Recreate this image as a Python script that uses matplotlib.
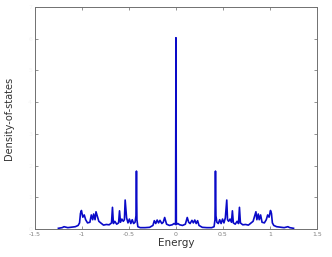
import numpy as np
import matplotlib.pyplot as plt

# density of states (energy, dos)
energy = [-1.25, -1.21, -1.19, -1.15, -1.1, -1.07, -1.04, -1.025, -1.015, -1.005,
          -0.99, -0.975, -0.96, -0.94, -0.915, -0.9, -0.885, -0.875, -0.86, -0.85,
          -0.835, -0.82, -0.8, -0.77, -0.74, -0.71, -0.685, -0.675, -0.665, -0.65,
          -0.63, -0.61, -0.6, -0.59, -0.575, -0.56, -0.548, -0.54, -0.525, -0.51,
          -0.495, -0.48, -0.465, -0.45, -0.435, -0.425, -0.42, -0.415, -0.405, -0.38,
          -0.33, -0.28, -0.245, -0.23, -0.215, -0.2, -0.185, -0.17, -0.15, -0.135,
          -0.12, -0.10, -0.07, -0.04, -0.02, -0.004,
          0.0,
          0.004, 0.02, 0.04, 0.07, 0.10, 0.12, 0.135, 0.15, 0.17, 0.185,
          0.2, 0.215, 0.23, 0.245, 0.28, 0.33, 0.38, 0.405, 0.415, 0.42,
          0.425, 0.435, 0.45, 0.465, 0.48, 0.495, 0.51, 0.525, 0.54, 0.548,
          0.56, 0.575, 0.59, 0.6, 0.61, 0.63, 0.65, 0.665, 0.675, 0.685,
          0.71, 0.74, 0.77, 0.8, 0.82, 0.835, 0.85, 0.86, 0.875, 0.885,
          0.9, 0.915, 0.94, 0.96, 0.975, 0.99, 1.005, 1.015, 1.025, 1.04,
          1.07, 1.1, 1.15, 1.19, 1.21, 1.25]
dos = [0.03, 0.05, 0.08, 0.05, 0.07, 0.08, 0.12, 0.2, 0.5, 0.59,
       0.38, 0.45, 0.3, 0.2, 0.22, 0.45, 0.3, 0.48, 0.3, 0.55,
       0.4, 0.25, 0.2, 0.13, 0.15, 0.14, 0.2, 0.69, 0.18, 0.25,
       0.16, 0.2, 0.58, 0.22, 0.32, 0.25, 0.3, 0.92, 0.36, 0.2,
       0.32, 0.18, 0.3, 0.18, 0.22, 0.42, 1.83, 0.3, 0.08, 0.05,
       0.05, 0.06, 0.12, 0.27, 0.18, 0.29, 0.2, 0.28, 0.18, 0.22,
       0.37, 0.16, 0.12, 0.14, 0.18, 0.15,
       6.03,
       0.15, 0.18, 0.14, 0.12, 0.16, 0.37, 0.22, 0.18, 0.28, 0.2,
       0.29, 0.18, 0.27, 0.12, 0.06, 0.05, 0.05, 0.08, 0.3, 1.83,
       0.42, 0.22, 0.18, 0.3, 0.18, 0.32, 0.2, 0.36, 0.92, 0.3,
       0.25, 0.32, 0.22, 0.58, 0.2, 0.16, 0.25, 0.18, 0.69, 0.2,
       0.14, 0.15, 0.13, 0.2, 0.25, 0.4, 0.55, 0.3, 0.48, 0.3,
       0.45, 0.22, 0.2, 0.3, 0.45, 0.38, 0.59, 0.5, 0.2, 0.12,
       0.08, 0.07, 0.05, 0.08, 0.05, 0.03]
xticks = [-1.5, -1, -0.5, 0, 0.5, 1, 1.5]
xticklabels = ['-1.5', '-1', '-0.5', '0', '0.5', '1', '1.5']
yticks = [0, 1, 2, 3, 4, 5, 6, 7]

fig = plt.figure(figsize=(3.32, 2.57), dpi=100)
ax = fig.add_axes([0.105, 0.108, 0.85, 0.865])
ax.plot(energy, dos, color='#0a0ac8', lw=1.2)

ax.set_xlim(-1.5, 1.5)
ax.set_ylim(0, 7)
ax.set_xticks(xticks)
ax.set_xticklabels(xticklabels)
ax.set_yticks(yticks)
ax.set_yticklabels([str(t) for t in yticks])
ax.tick_params(direction='in', length=2.5, width=0.6, colors='#808080',
               labelsize=4.5, top=True, right=True, pad=2)
ax.tick_params(axis='y', labelcolor='#f4f4f4')
for s in ax.spines.values():
    s.set_color('#707070')
    s.set_linewidth(0.7)

ax.set_xlabel('Energy', fontsize=7.5, color='#333333', labelpad=1)
ax.set_ylabel('Density-of-states', fontsize=7, color='#333333', labelpad=10)

fig.savefig('out.png', dpi=100)
